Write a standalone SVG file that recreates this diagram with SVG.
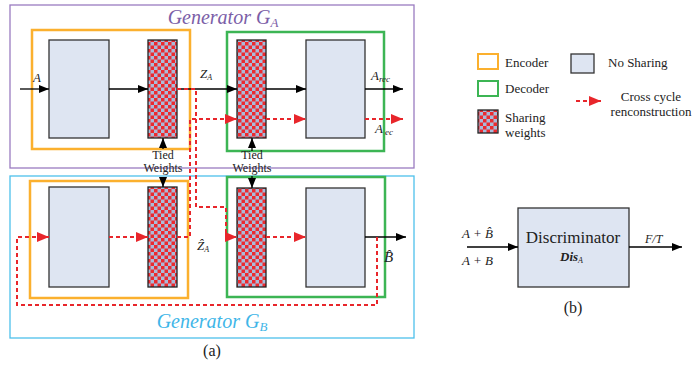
<svg xmlns="http://www.w3.org/2000/svg" width="693" height="365" viewBox="0 0 693 365">
<defs>
<pattern id="chk" width="7" height="7" patternUnits="userSpaceOnUse">
<rect width="7" height="7" fill="#a9bbda"/>
<rect width="3.5" height="3.5" fill="#ec2a2f"/>
<rect x="3.5" y="3.5" width="3.5" height="3.5" fill="#ec2a2f"/>
</pattern>
<marker id="ab" viewBox="0 0 10 8" refX="10" refY="4" markerWidth="10" markerHeight="8" markerUnits="userSpaceOnUse" orient="auto">
<path d="M0,0 L10,4 L0,8 Z" fill="#000"/>
</marker>
<marker id="ar" viewBox="0 0 12 10" refX="12" refY="5" markerWidth="12" markerHeight="10" markerUnits="userSpaceOnUse" orient="auto">
<path d="M0,0 L12,5 L0,10 Z" fill="#e8262b"/>
</marker>
</defs>
<style>
.t{font-family:"Liberation Serif","DejaVu Serif",serif;fill:#222}
.it{font-style:italic}
.blk{fill:none;stroke:#000;stroke-width:1.3}
.red{fill:none;stroke:#e8262b;stroke-width:2;stroke-dasharray:4 3}
.box{fill:#dee5f2;stroke:#333;stroke-width:1.3}
.chk{fill:url(#chk);stroke:#222;stroke-width:1.3}
.enc{fill:none;stroke:#fbb02e;stroke-width:2.5}
.dec{fill:none;stroke:#3cb554;stroke-width:2.5}
</style>
<rect width="693" height="365" fill="#fff"/>

<g id="generatorA">
<rect x="10" y="5" width="404" height="163" fill="none" stroke="#9a7cc0" stroke-width="1.3"/>
<text x="223" y="24" class="t it" font-size="20" text-anchor="middle" style="fill:#7b5ea7">Generator G<tspan font-size="13" dy="3">A</tspan></text>
</g>
<g id="generatorB">
<rect x="10" y="176" width="404" height="162" fill="none" stroke="#4dc0ec" stroke-width="1.3"/>
<text x="212" y="328" class="t it" font-size="20" text-anchor="middle" style="fill:#3fb6e8">Generator G<tspan font-size="13" dy="3">B</tspan></text>
</g>

<g id="encoderA">
<rect class="enc" x="32" y="30" width="158" height="119"/>
<rect class="box" x="49" y="40" width="60" height="98"/>
<rect class="chk" x="148" y="40" width="29" height="98"/>
</g>
<g id="decoderA">
<rect class="dec" x="227" y="32" width="157" height="119"/>
<rect class="chk" x="237" y="40" width="29" height="98"/>
<rect class="box" x="306" y="40" width="59" height="98"/>
</g>
<g id="encoderB">
<rect class="enc" x="30" y="181" width="158" height="117"/>
<rect class="box" x="49" y="187" width="60" height="100"/>
<rect class="chk" x="148" y="187" width="29" height="100"/>
</g>
<g id="decoderB">
<rect class="dec" x="227" y="177" width="158" height="120"/>
<rect class="chk" x="237" y="188" width="29" height="99"/>
<rect class="box" x="306" y="188" width="59" height="99"/>
</g>

<g id="connectors">
<path class="blk" d="M20,89 H49" marker-end="url(#ab)"/>
<path class="blk" d="M109,89 H148" marker-end="url(#ab)"/>
<path class="blk" d="M177,89 H237" marker-end="url(#ab)"/>
<path class="blk" d="M266,89 H306" marker-end="url(#ab)"/>
<path class="blk" d="M365,89 H403" marker-end="url(#ab)"/>
<path class="blk" d="M365,237 H406" marker-end="url(#ab)"/>
<path class="red" d="M177,89 H196 V207 H226 V237 H237" marker-end="url(#ar)"/>
<path class="red" d="M177,237 H190 V119 H237" marker-end="url(#ar)"/>
<path class="red" d="M266,119 H306" marker-end="url(#ar)"/>
<path class="red" d="M365,119 H403" marker-end="url(#ar)"/>
<path class="red" d="M266,237 H306" marker-end="url(#ar)"/>
<path class="red" d="M377,237 V305 H17 V237 H49" marker-end="url(#ar)"/>
<path class="red" d="M109,237 H148" marker-end="url(#ar)"/>
<path class="blk" d="M163,149 V138" marker-end="url(#ab)"/>
<path class="blk" d="M252,151 V138" marker-end="url(#ab)"/>
<path class="blk" d="M163,178 V187" marker-end="url(#ab)"/>
<path class="blk" d="M252,176 V188" marker-end="url(#ab)"/>
</g>

<g id="labels">
<text x="33" y="82" class="t it" font-size="13">A</text>
<text x="200" y="78" class="t it" font-size="13">Z<tspan font-size="8" dy="2">A</tspan></text>
<text x="197" y="250" class="t it" font-size="13">Ẑ<tspan font-size="8" dy="2">A</tspan></text>
<text x="371" y="80" class="t it" font-size="13">A<tspan font-size="9" dy="2">rec</tspan></text>
<text x="375" y="133" class="t it" font-size="13">A<tspan font-size="9" dy="2" dx="2">ec</tspan></text>
<text x="384" y="262" class="t it" font-size="15">B̂</text>
<text x="163" y="159" class="t" font-size="12" text-anchor="middle">Tied</text>
<text x="163" y="172" class="t" font-size="12" text-anchor="middle">Weights</text>
<text x="252" y="159" class="t" font-size="12" text-anchor="middle">Tied</text>
<text x="252" y="172" class="t" font-size="12" text-anchor="middle">Weights</text>
<text x="212" y="356" class="t" font-size="16" text-anchor="middle">(a)</text>
</g>

<g id="legend">
<rect x="478" y="54" width="20" height="15" fill="none" stroke="#fbb02e" stroke-width="2"/>
<text x="505" y="67" class="t" font-size="13">Encoder</text>
<rect x="478" y="81" width="20" height="15" fill="none" stroke="#3cb554" stroke-width="2"/>
<text x="505" y="93" class="t" font-size="13">Decoder</text>
<rect class="chk" x="478" y="110" width="20" height="23"/>
<text x="505" y="122" class="t" font-size="13">Sharing</text>
<text x="505" y="137" class="t" font-size="13">weights</text>
<rect class="box" x="571" y="54" width="23" height="19"/>
<text x="608" y="67" class="t" font-size="13">No Sharing</text>
<path class="red" d="M576,101 H601" marker-end="url(#ar)"/>
<text x="651" y="101" class="t" font-size="13" text-anchor="middle">Cross cycle</text>
<text x="651" y="116" class="t" font-size="13" text-anchor="middle">renconstruction</text>
</g>

<g id="discriminator">
<rect class="box" x="518" y="208" width="111" height="79"/>
<text x="573" y="243" class="t" font-size="17" text-anchor="middle">Discriminator</text>
<text x="560" y="261" class="t it" font-size="13" font-weight="bold">Dis<tspan font-size="8" dy="2" font-weight="normal">A</tspan></text>
<path class="blk" d="M467,247 H518" marker-end="url(#ab)"/>
<path class="blk" d="M629,247 H682" marker-end="url(#ab)"/>
<text x="462" y="238" class="t it" font-size="13">A + B̂</text>
<text x="462" y="265" class="t it" font-size="13">A + B</text>
<text x="645" y="243" class="t it" font-size="12">F/T</text>
<text x="573" y="313" class="t" font-size="16" text-anchor="middle">(b)</text>
</g>
</svg>
